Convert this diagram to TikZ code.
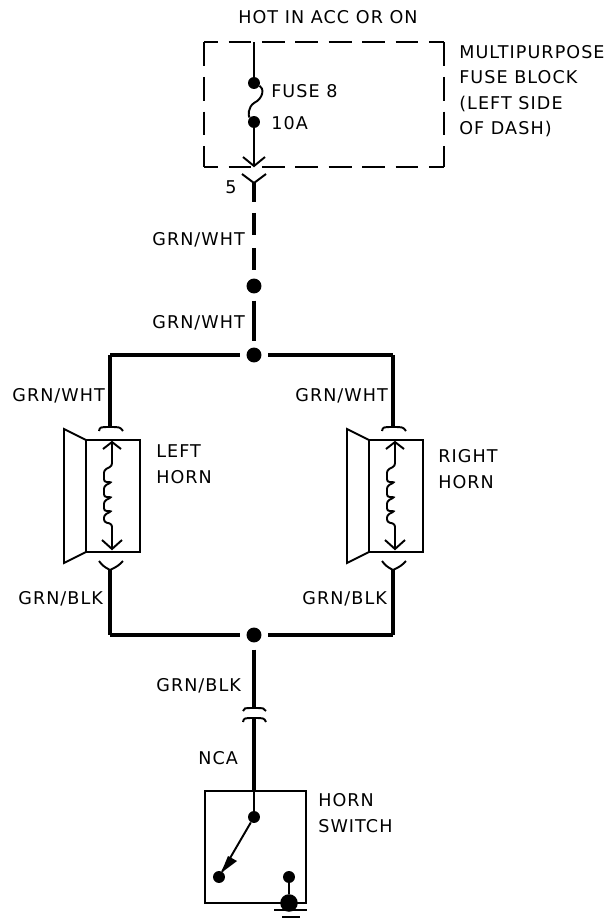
\documentclass[tikz,border=0pt]{standalone}
\usepackage{fontspec}
\setmainfont[LetterSpace=6]{DejaVu Sans}
\usetikzlibrary{positioning}
\tikzset{
  wire/.style={line width=2.1pt},
  thin wire/.style={line width=1.1pt},
  box dash/.style={thin wire, dash pattern=on 13pt off 6pt, dash phase=5pt},
  side dash/.style={thin wire, dash pattern=on 13.6pt off 6.2pt},
  dot/.style={circle, fill=black, inner sep=0pt, minimum size=8.5pt, outer sep=4pt},
  small dot/.style={circle, fill=black, inner sep=0pt, minimum size=6.8pt},
  lbl/.style={font=\fontsize{10}{11.5}\selectfont, inner sep=0pt, align=left}
}
\begin{document}
\begin{tikzpicture}[x=0.02cm, y=-0.02cm]
    \useasboundingbox (0, 0) rectangle (610, 921);

    % fuse block
    \coordinate (boxnw) at (204, 42);
    \coordinate (boxne) at (444, 42);
    \coordinate (boxsw) at (204, 167);
    \coordinate (boxse) at (444, 167);
    \draw [box dash] (boxnw) -- (boxne);
    \draw [box dash] (boxsw) -- (boxse);
    \draw [side dash] (boxnw) -- (boxsw);
    \draw [side dash] (boxne) -- (boxse);
    \node [lbl, anchor=base west] at (238, 23) {HOT IN ACC OR ON};
    \node [lbl, anchor=north west] at (459, 45) {MULTIPURPOSE\\[3pt]FUSE BLOCK\\[3pt](LEFT SIDE\\[3pt]OF DASH)};
    \node [lbl, anchor=base west] at (271, 97) {FUSE 8};
    \node [lbl, anchor=base west] at (271, 129) {10A};

    \node [small dot] (fusetop) at (254, 83) {};
    \node [small dot] (fusebot) at (254, 122) {};
    \coordinate (feed) at (254, 42);
    \coordinate (pin) at (254, 166);
    \draw [thin wire] (feed) -- (fusetop);
    \draw [thin wire] (fusetop) .. controls (264, 88) and (264, 98) .. (254, 103) .. controls (248, 107) and (248, 116) .. (fusebot);
    \draw [thin wire] (fusebot) -- (pin);
    \draw [thin wire] (243, 157) -- (pin) -- (265, 157);

    % connector 5
    \node [lbl, anchor=base west] at (225, 193) {5};
    \coordinate (socket) at (254, 183);
    \draw [thin wire] (242, 174) -- (socket) -- (266, 174);

    % feed down to the bus
    \node [dot] (splice) at (254, 286) {};
    \node [dot] (topbus) at (254, 355) {};
    \draw [wire, dash pattern=on 10.8pt off 6.2pt on 12.5pt off 7.4pt on 12.5pt off 20pt] (socket) -- (splice);
    \draw [wire] (splice) -- (topbus);
    \node [lbl, anchor=base west] at (152, 245) {GRN/WHT};
    \node [lbl, anchor=base west] at (152, 328) {GRN/WHT};

    % horns
    \foreach \x/\name in {110/left, 393/right} {
      \coordinate (\name top) at (\x, 355);
      \coordinate (\name cap) at (\x, 427);
      \coordinate (\name bot) at (\x, 635);
      \coordinate (\name cup) at (\x, 570);
      \draw [wire] (\name top) -- (\name cap);
      \draw [wire] (\name cup) -- (\name bot);
      \draw [thin wire] (\x-11, 431) .. controls (\x-10, 427) .. (\name cap) .. controls (\x+10, 427) .. (\x+13, 431);
      \draw [thin wire] (\x-11, 561) .. controls (\x-7, 566) .. (\name cup) .. controls (\x+8, 566) .. (\x+13, 561);
      \draw [thin wire] (\x-24, 440) rectangle (\x+30, 552);
      \draw [thin wire] (\x-24, 440) -- (\x-46, 429) -- (\x-46, 563) -- (\x-24, 552);
      % coil and contacts
      \draw [thin wire, rounded corners=1.5pt] (\x+2, 442) -- (\x+2, 466) -- (\x-6, 470) -- (\x-6, 482) -- (\x+2, 482) -- (\x-6, 486) -- (\x-6, 497) -- (\x+2, 497) -- (\x-6, 501) -- (\x-6, 511) -- (\x+2, 511) -- (\x-6, 515) -- (\x-6, 522) -- (\x+2, 524) -- (\x+2, 549);
      \draw [thin wire] (\x-7, 449) -- (\x+2, 442) -- (\x+11, 449);
      \draw [thin wire] (\x-8, 540) -- (\x+2, 549) -- (\x+12, 540);
    }
    \node [lbl, anchor=base west] at (12, 401) {GRN/WHT};
    \node [lbl, anchor=base west] at (295, 401) {GRN/WHT};
    \node [lbl, anchor=base west] at (18, 604) {GRN/BLK};
    \node [lbl, anchor=base west] at (302, 604) {GRN/BLK};
    \node [lbl, anchor=north west] at (156, 444) {LEFT\\[3.6pt]HORN};
    \node [lbl, anchor=north west] at (438, 449) {RIGHT\\[3.6pt]HORN};

    \draw [wire] (lefttop) -- (topbus) -- (righttop);
    \node [dot] (botbus) at (254, 635) {};
    \draw [wire] (leftbot) -- (botbus) -- (rightbot);

    % switch branch
    \node [lbl, anchor=base west] at (156, 691) {GRN/BLK};
    \node [lbl, anchor=base west] at (198, 764) {NCA};
    \coordinate (capa) at (254, 708);
    \coordinate (capb) at (254, 718);
    \coordinate (swin) at (254, 791);
    \draw [wire] (botbus) -- (capa);
    \draw [wire] (capb) -- (swin);
    \draw [thin wire] (243, 711) .. controls (244, 708) .. (capa) .. controls (264, 708) .. (266, 711);
    \draw [thin wire] (243, 722) .. controls (244, 718) .. (capb) .. controls (264, 718) .. (266, 722);

    % horn switch
    \draw [thin wire] (205, 791) rectangle (306, 903);
    \node [lbl, anchor=north west] at (318, 793) {HORN\\[3.6pt]SWITCH};
    \node [small dot] (swtop) at (254, 817) {};
    \node [small dot] (swbot) at (219, 877) {};
    \node [small dot] (gndtop) at (289, 877) {};
    \node [small dot, minimum size=10pt] (gnd) at (289, 903) {};
    \draw [thin wire] (swin) -- (swtop);
    \draw [thin wire] (swtop) -- (swbot);
    \fill (221, 873) -- (228, 856) -- (237, 861) -- cycle;
    \draw [thin wire] (gndtop) -- (gnd);
    \coordinate (gnda) at (274, 910);
    \coordinate (gndb) at (307, 910);
    \coordinate (gndc) at (282, 917);
    \coordinate (gndd) at (300, 917);
    \draw [thin wire] (gnda) -- (gndb);
    \draw [thin wire] (gndc) -- (gndd);
  \end{tikzpicture}
\end{document}
